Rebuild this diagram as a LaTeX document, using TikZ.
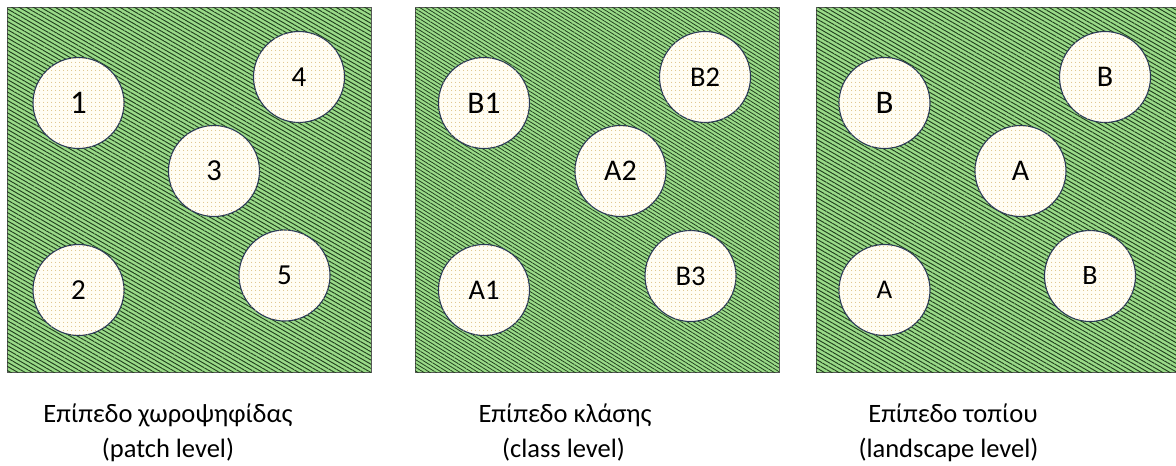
\documentclass[tikz,border=0pt]{standalone}
\usepackage{fontspec}
\setmainfont{Carlito}
\usetikzlibrary{patterns.meta}
\definecolor{grass}{HTML}{9ADB88}
\definecolor{streak}{HTML}{22401F}
\definecolor{patchfill}{HTML}{FFFDF3}
\definecolor{dotgold}{HTML}{D6B56C}
\definecolor{rim}{HTML}{2B3A55}
\definecolor{framegray}{HTML}{5A5A5A}
\tikzset{
  land/.style={draw=framegray, line width=0.9pt, fill=grass,
    postaction={pattern={Lines[angle=-30,distance=3.6pt,line width=0.95pt]}, pattern color=streak}},
  landfine/.style={draw=framegray, line width=0.9pt, fill=grass,
    postaction={pattern={Lines[angle=-32,distance=3.2pt,line width=0.8pt]}, pattern color=streak}},
  patch/.style={circle, minimum size=91pt, inner sep=0pt, draw=rim, line width=1.1pt,
    fill=patchfill, postaction={pattern={Dots[distance=4pt,radius=0.6pt]}, pattern color=dotgold},
    text=black},
  fs/.style={font=\fontsize{#1}{#1}\selectfont},
  caption/.style={anchor=base, inner sep=0pt, font=\fontsize{26.5}{30}\selectfont, text=black}
}
\begin{document}
\begin{tikzpicture}[x=1pt,y=-1pt]
\useasboundingbox (0,0) rectangle (1176,466);
% panels
\path[land] (7,7) rectangle (371,372);
\path[landfine] (415,7) rectangle (779,372);
\path[land] (816,7) rectangle (1182,372);
% panel 1
\node[patch, fs=33] (p1) at (78.5,103) {1};
\node[patch, fs=29] (p2) at (78.5,290) {2};
\node[patch, fs=30.5] (p3) at (214,171) {3};
\node[patch, fs=29] (p4) at (299,77) {4};
\node[patch, fs=29] (p5) at (284.5,275.5) {5};
% panel 2
\node[patch, fs=31.5] (c1) at (484,103) {B1};
\node[patch, fs=28.5] (c2) at (705,77) {B2};
\node[patch, fs=30] (c3) at (620.5,171) {A2};
\node[patch, fs=28.5] (c4) at (484,290) {A1};
\node[patch, fs=28.5] (c5) at (690.5,276) {B3};
% panel 3
\node[patch, fs=33] (l1) at (884.5,103) {B};
\node[patch, fs=30] (l2) at (1105,77) {B};
\node[patch, fs=30] (l3) at (1020.5,171) {A};
\node[patch, fs=27] (l4) at (884.5,290) {A};
\node[patch, fs=28] (l5) at (1090,276) {B};
% captions
\node[caption] (t1a) at (168,422) {Επίπεδο χωροψηφίδας};
\node[caption] (t1b) at (168,457) {(patch level)};
\node[caption] (t2a) at (565,422) {Επίπεδο κλάσης};
\node[caption] (t2b) at (563.5,457) {(class level)};
\node[caption] (t3a) at (953,422) {Επίπεδο τοπίου};
\node[caption] (t3b) at (948.5,457) {(landscape level)};
\end{tikzpicture}
\end{document}
